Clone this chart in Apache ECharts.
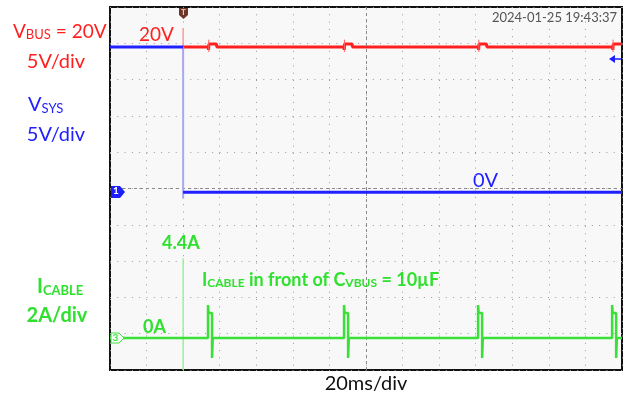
<!DOCTYPE html>
<html><head><meta charset="utf-8">
<script src="https://cdn.jsdelivr.net/npm/echarts@6/dist/echarts.min.js"></script>
<style>html,body{margin:0;padding:0;background:#fff;}#c{width:624px;height:397px;}</style>
</head><body><div id="c"></div>
<script>
// ---- data (time in ms, 20 ms/div, 14 div) ----
const xTicks = [0, 20, 40, 60, 80, 100, 120, 140, 160, 180, 200, 220, 240, 260, 280];
// V_SYS (V)
const vsysT = [0, 40, 40, 40, 280];
const vsysV = [20, 20, null, 0, 0];
const vsysEdgeT = [40, 40];
const vsysEdgeV = [20, -0.9];
// V_BUS (V)
const vbusT = [40, 53.7, 53.9, 54.1, 58.2, 58.4, 127.9, 128.1, 128.3, 132.4, 132.6, 201.4, 201.6, 201.8, 205.9, 206.1, 274.8, 275.0, 275.2, 280];
const vbusV = [20, 20, 19.6, 20.4, 20.4, 20, 20, 19.6, 20.4, 20.4, 20, 20, 19.6, 20.4, 20.4, 20, 20, 19.6, 20.4, 20.4];
const vbusSpikeT = [54.0, 54.0, null, 128.2, 128.2, null, 201.7, 201.7, null, 275.1, 275.1];
const vbusSpikeV = [21.0, 19.3, null, 21.0, 19.3, null, 21.0, 19.3, null, 21.0, 19.3];
const vbusEdgeT = [40, 40];
const vbusEdgeV = [22.6, 16.5];
// I_CABLE (A)
const icT = [0, 53.6, 53.6, 53.9, 55.8, 55.8, 56.2, 128.0, 128.0, 128.3, 130.2, 130.2, 130.6, 201.3, 201.3, 201.6, 203.5, 203.5, 203.9, 274.6, 274.6, 274.9, 276.8, 276.8, 277.2, 280];
const icA = [0, 0, 1.82, 1.38, 1.38, -1.1, 0, 0, 1.82, 1.38, 1.38, -1.1, 0, 0, 1.82, 1.38, 1.38, -1.1, 0, 0, 1.82, 1.38, 1.38, -1.1, 0, 0];
const icEdgeT = [40, 40];
const icEdgeA = [4.4, -1.76];

function pairs(t, v) { return t.map((x, i) => (x === null || v[i] === null) ? [x === null ? NaN : x, '-'] : [x, v[i]]); }

const FONT = 'Lato';
const RED = '#ff1f1f', BLUE = '#2121ff', GREEN = '#2fe02f';

const chart = echarts.init(document.getElementById('c'), null, { renderer: 'canvas' });

function rt(x, y, parts, color, size, weight, ratio) {
  const w = weight || 'normal';
  const ss = Math.round(size * (ratio || 0.64));
  const rich = {
    m: { fontFamily: FONT, fontSize: size, fontWeight: w, fill: color, lineHeight: size, verticalAlign: 'top' },
    s: { fontFamily: FONT, fontSize: ss, fontWeight: w, fill: color, lineHeight: ss, padding: [Math.round(size * 0.5), 0, 0, 0], verticalAlign: 'bottom' }
  };
  const txt = parts.map(p => '{' + (p[1] ? 's' : 'm') + '|' + p[0] + '}').join('');
  return { type: 'text', x: x, y: y, z: 100, style: { text: txt, rich: rich, fill: color, align: 'left', verticalAlign: 'top', fontFamily: FONT } };
}

const option = {
  animation: false,
  backgroundColor: '#ffffff',
  grid: { left: 110, top: 7, right: 2, bottom: 27, show: true, backgroundColor: '#f8f8f8', borderColor: '#111111', borderWidth: 2 },
  xAxis: { type: 'value', min: 0, max: 280, interval: 20, axisLabel: { show: false }, axisTick: { show: false }, axisLine: { show: false },
    splitLine: { show: true, lineStyle: { color: '#9a9a9a', type: [1, 6.3], width: 1 } } },
  yAxis: [
    { type: 'value', min: 0, max: 10, interval: 1, axisLabel: { show: false }, axisTick: { show: false }, axisLine: { show: false },
      splitLine: { show: true, lineStyle: { color: '#9a9a9a', type: [1, 6.3], width: 1 } } },
    { type: 'value', min: -24.5, max: 25.5, show: false, splitLine: { show: false } },
    { type: 'value', min: -1.76, max: 18.24, show: false, splitLine: { show: false } }
  ],
  series: [
    { type: 'line', yAxisIndex: 0, data: [], silent: true,
      markLine: { symbol: 'none', silent: true, label: { show: false },
        lineStyle: { color: '#8a8a8a', type: [3, 3], width: 1 },
        data: [{ xAxis: 140 }, { yAxis: 5 }] } },
    { name: 'VBUS edge', type: 'line', yAxisIndex: 1, showSymbol: false, data: pairs(vbusEdgeT, vbusEdgeV), lineStyle: { color: '#ff9a9a', width: 1.5 }, z: 3 },
    { name: 'VBUS', type: 'line', yAxisIndex: 1, showSymbol: false, data: pairs(vbusT, vbusV), lineStyle: { color: RED, width: 3 }, z: 4 },
    { name: 'VBUS spikes', type: 'line', yAxisIndex: 1, showSymbol: false, connectNulls: false, data: pairs(vbusSpikeT, vbusSpikeV), lineStyle: { color: '#ff6060', width: 1 }, z: 4 },
    { name: 'VSYS edge', type: 'line', yAxisIndex: 1, showSymbol: false, data: pairs(vsysEdgeT, vsysEdgeV), lineStyle: { color: '#a8a8f4', width: 2 }, z: 5 },
    { name: 'VSYS', type: 'line', yAxisIndex: 1, showSymbol: false, connectNulls: false, data: pairs(vsysT, vsysV), lineStyle: { color: BLUE, width: 3 }, z: 6 },
    { name: 'ICABLE edge', type: 'line', yAxisIndex: 2, showSymbol: false, data: pairs(icEdgeT, icEdgeA), lineStyle: { color: '#9cf09c', width: 1.5 }, z: 5 },
    { name: 'ICABLE', type: 'line', yAxisIndex: 2, showSymbol: false, data: pairs(icT, icA), lineStyle: { color: '#38e038', width: 2.5 }, z: 6 }
  ],
  graphic: [
    rt(13, 22, [['V', 0], ['BUS', 1], [' = 20V', 0]], RED, 19, 'normal', 0.66),
    { type: 'text', x: 56, y: 52, style: { text: '5V/div', font: '20px ' + FONT, fill: RED, align: 'center' } },
    rt(28, 95, [['V', 0], ['SYS', 1]], BLUE, 20, 'normal', 0.64),
    { type: 'text', x: 56, y: 125, style: { text: '5V/div', font: '20px ' + FONT, fill: BLUE, align: 'center' } },
    rt(37, 277, [['I', 0], ['CABLE', 1]], GREEN, 20, 'bold', 0.64),
    { type: 'text', x: 57, y: 306, style: { text: '2A/div', font: 'bold 20px ' + FONT, fill: GREEN, align: 'center' } },
    { type: 'text', x: 139, y: 25, style: { text: '20V', font: '19px ' + FONT, fill: RED } },
    { type: 'text', x: 473, y: 171, style: { text: '0V', font: '20px ' + FONT, fill: BLUE } },
    { type: 'text', x: 162, y: 234, style: { text: '4.4A', font: 'bold 18px ' + FONT, fill: GREEN } },
    rt(202, 271, [['I', 0], ['CABLE', 1], [' in front of C', 0], ['VBUS', 1], [' = 10µF', 0]], GREEN, 18, 'bold', 0.68),
    { type: 'text', x: 143, y: 318, style: { text: '0A', font: 'bold 18px ' + FONT, fill: GREEN } },
    { type: 'text', x: 366, y: 374, style: { text: '20ms/div', font: '20px ' + FONT, fill: '#111', align: 'center' } },
    { type: 'text', x: 617, y: 11, style: { text: '2024-01-25 19:43:37', font: '13px ' + FONT, fill: '#555', align: 'right' } },
    // trigger position marker
    { type: 'polygon', z: 50, shape: { points: [[179, 8], [188, 8], [188, 15], [183.5, 19], [179, 15]] }, style: { fill: '#6e3526' } },
    { type: 'text', z: 51, x: 183.5, y: 8, style: { text: 'T', font: 'bold 8px ' + FONT, fill: '#e8d0c8', align: 'center' } },
    // channel 1 marker
    { type: 'polygon', z: 50, shape: { points: [[111, 186], [120, 186], [125, 192], [120, 198], [111, 198]] }, style: { fill: '#1d1dff' } },
    { type: 'text', z: 51, x: 116, y: 186, style: { text: '1', font: 'bold 10px ' + FONT, fill: '#fff', align: 'center' } },
    // channel 3 marker
    { type: 'polygon', z: 50, shape: { points: [[111, 333], [119, 333], [124, 338], [119, 343], [111, 343]] }, style: { fill: '#f6fff6', stroke: '#40e040', lineWidth: 1 } },
    { type: 'text', z: 51, x: 115.5, y: 333, style: { text: '3', font: 'bold 10px ' + FONT, fill: '#40e040', align: 'center' } },
    // trigger level arrow (right)
    { type: 'polygon', z: 50, shape: { points: [[609, 59], [615, 55], [615, 63]] }, style: { fill: '#1d1dff' } },
    { type: 'line', z: 50, shape: { x1: 614, y1: 59, x2: 621, y2: 59 }, style: { stroke: '#1d1dff', lineWidth: 1.5 } }
  ]
};
chart.setOption(option);
</script>
</body></html>
